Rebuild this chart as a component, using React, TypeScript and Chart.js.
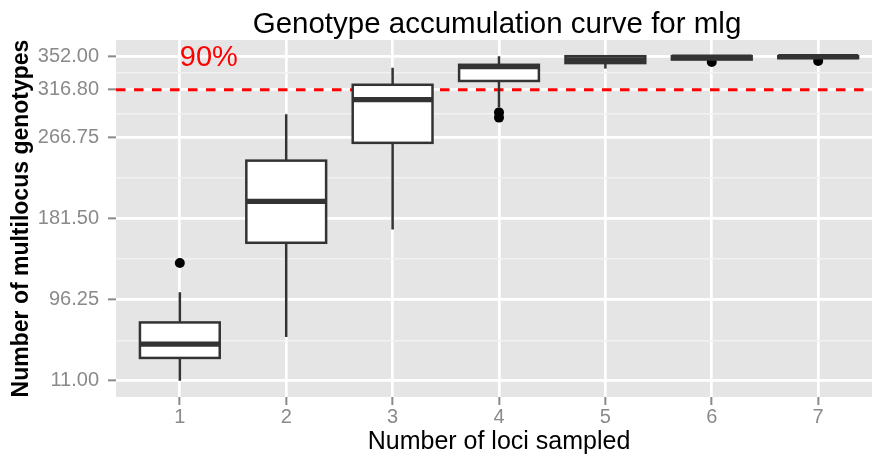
import React, { useEffect, useRef } from "react";
import { Chart, registerables } from "chart.js";

Chart.register(...registerables);

// ---- data ----
const categories = [1, 2, 3, 4, 5, 6, 7];
const whiskerLow = [11, 57, 170, 298, 339, 348.5, 350];
const q1 = [35, 156, 261, 326, 344.8, 348.5, 350];
const median = [49.6, 199.5, 306.5, 341, 348.3, 351, 351.5];
const q3 = [72.3, 242.3, 322, 343, 352, 352, 352];
const whiskerHigh = [104, 291, 340, 352, 352, 352, 352];
const outlierX = [1, 4, 4, 6, 7];
const outlierY = [134.8, 293, 287.5, 346, 347];
const yTicks = [11, 96.25, 181.5, 266.75, 316.8, 352];
const yMinorTicks = [53.625, 138.875, 224.125, 291.775, 334.4];
const threshold = 316.8;
const thresholdLabel = "90%";
const thresholdLabelX = 1;
const thresholdLabelY = 352;
const titleText = "Genotype accumulation curve for mlg";
const xTitle = "Number of loci sampled";
const yTitle = "Number of multilocus genotypes";

const FONT = '"Liberation Sans", Arial, Helvetica, sans-serif';
const BOX_WIDTH = 0.75;

const isMajor = (v: number) => yTicks.some((t) => Math.abs(t - v) < 1e-6);

const panelBg = {
  id: "panelBg",
  beforeDraw(chart: any) {
    const { ctx, chartArea } = chart;
    ctx.save();
    ctx.fillStyle = "#E5E5E5";
    ctx.fillRect(chartArea.left, chartArea.top, chartArea.right - chartArea.left, chartArea.bottom - chartArea.top);
    ctx.restore();
  },
};

const boxes = {
  id: "boxes",
  afterDatasetDraw(chart: any, args: any) {
    if (args.index !== 0) return;
    const { ctx, chartArea } = chart;
    const xs = chart.scales.x;
    const ys = chart.scales.y;
    ctx.save();
    ctx.beginPath();
    ctx.rect(chartArea.left, chartArea.top, chartArea.right - chartArea.left, chartArea.bottom - chartArea.top);
    ctx.clip();
    ctx.strokeStyle = "#333333";
    ctx.lineCap = "butt";
    for (let i = 0; i < categories.length; i++) {
      const cx = xs.getPixelForValue(categories[i]);
      const half = xs.getPixelForValue(categories[i] + BOX_WIDTH / 2) - cx;
      const yWl = ys.getPixelForValue(whiskerLow[i]);
      const yQ1 = ys.getPixelForValue(q1[i]);
      const yMed = ys.getPixelForValue(median[i]);
      const yQ3 = ys.getPixelForValue(q3[i]);
      const yWh = ys.getPixelForValue(whiskerHigh[i]);
      ctx.lineWidth = 2.5;
      ctx.beginPath();
      ctx.moveTo(cx, yWh);
      ctx.lineTo(cx, yQ3);
      ctx.moveTo(cx, yQ1);
      ctx.lineTo(cx, yWl);
      ctx.stroke();
      ctx.fillStyle = "#ffffff";
      ctx.fillRect(cx - half, yQ3, 2 * half, yQ1 - yQ3);
      ctx.strokeRect(cx - half, yQ3, 2 * half, yQ1 - yQ3);
      ctx.lineWidth = 5.2;
      ctx.beginPath();
      ctx.moveTo(cx - half, yMed);
      ctx.lineTo(cx + half, yMed);
      ctx.stroke();
    }
    ctx.restore();
  },
};

const texts = {
  id: "texts",
  afterDraw(chart: any) {
    const { ctx, chartArea } = chart;
    const xs = chart.scales.x;
    const ys = chart.scales.y;
    ctx.save();
    ctx.fillStyle = "#FF0000";
    ctx.font = `29px ${FONT}`;
    ctx.textAlign = "left";
    ctx.textBaseline = "middle";
    ctx.fillText(thresholdLabel, xs.getPixelForValue(thresholdLabelX), ys.getPixelForValue(thresholdLabelY) + 2);
    ctx.fillStyle = "#000000";
    ctx.font = `29.5px ${FONT}`;
    ctx.textAlign = "center";
    ctx.textBaseline = "alphabetic";
    ctx.fillText(titleText, (chartArea.left + chartArea.right) / 2 - 2, 33);
    ctx.restore();
  },
};

export default function App() {
  const ref = useRef<HTMLCanvasElement>(null);
  useEffect(() => {
    if (!ref.current) return;
    const chart = new Chart(ref.current, {
      type: "scatter",
      data: {
        datasets: [
          {
            type: "scatter",
            data: outlierX.map((x, i) => ({ x, y: outlierY[i] })),
            pointRadius: 5,
            pointHoverRadius: 5,
            backgroundColor: "#000000",
            borderWidth: 0,
          },
          {
            type: "line",
            data: [
              { x: 0.4, y: threshold },
              { x: 7.6, y: threshold },
            ],
            borderColor: "#FF0000",
            borderWidth: 3,
            borderDash: [9.5, 8.5],
            pointRadius: 0,
            fill: false,
          },
        ] as any,
      },
      options: {
        animation: false,
        responsive: false,
        events: [],
        layout: { padding: { left: 0, top: 40, right: 8, bottom: 0 } },
        plugins: {
          legend: { display: false },
          tooltip: { enabled: false },
          title: { display: false },
        },
        scales: {
          x: {
            type: "linear",
            min: 0.4,
            max: 7.6,
            afterBuildTicks: (scale: any) => {
              scale.ticks = categories.map((v) => ({ value: v }));
            },
            afterFit: (scale: any) => {
              scale.height = 61;
            },
            ticks: {
              autoSkip: false,
              maxRotation: 0,
              padding: 0,
              color: "#8a8a8a",
              font: { family: FONT, size: 20 },
              callback: (v: any) => String(v),
            },
            grid: {
              color: "#ffffff",
              lineWidth: 2.7,
              tickColor: "#8a8a8a",
              tickLength: 8,
              tickWidth: 2,
            },
            border: { display: false },
            title: {
              display: true,
              text: xTitle,
              color: "#000000",
              font: { family: FONT, size: 25 },
              padding: { top: 0, bottom: 1 },
            },
          },
          y: {
            type: "linear",
            min: -6.05,
            max: 369.05,
            afterBuildTicks: (scale: any) => {
              scale.ticks = [...yTicks, ...yMinorTicks].sort((a, b) => a - b).map((v) => ({ value: v }));
            },
            afterFit: (scale: any) => {
              scale.width = 116;
            },
            ticks: {
              autoSkip: false,
              padding: 9,
              color: "#8a8a8a",
              font: { family: FONT, size: 20 },
              callback: (v: any) => (isMajor(Number(v)) ? Number(v).toFixed(2) : ""),
            },
            grid: {
              color: (c: any) => (c.tick && isMajor(c.tick.value) ? "#ffffff" : "#F2F2F2"),
              lineWidth: (c: any) => (c.tick && isMajor(c.tick.value) ? 2.7 : 1.4),
              tickColor: (c: any) => (c.tick && isMajor(c.tick.value) ? "#8a8a8a" : "rgba(0,0,0,0)"),
              tickLength: 8,
              tickWidth: 2,
            },
            border: { display: false },
            title: {
              display: true,
              text: yTitle,
              color: "#000000",
              font: { family: FONT, size: 23, weight: "bold" },
              padding: { top: 8, bottom: 0 },
            },
          },
        },
      } as any,
      plugins: [panelBg, boxes, texts],
    });
    return () => chart.destroy();
  }, []);
  return (
    <div
      style={{
        position: "fixed",
        left: 0,
        top: 0,
        width: 872,
        height: 458,
        overflow: "hidden",
        background: "#ffffff",
      }}
    >
      <canvas ref={ref} width={890} height={458} style={{ display: "block" }} />
    </div>
  );
}
